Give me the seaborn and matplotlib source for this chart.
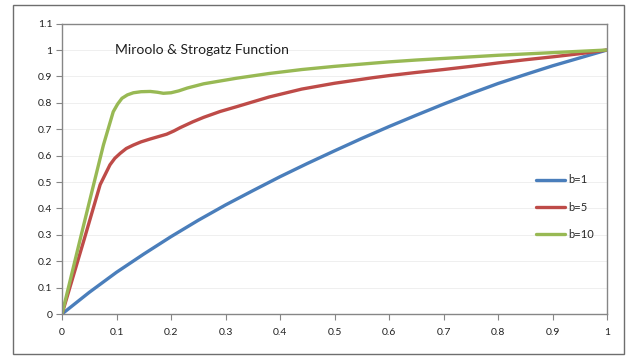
import matplotlib
matplotlib.use("Agg")
import matplotlib.pyplot as plt
import seaborn as sns
import pandas as pd
from matplotlib.patches import Rectangle
from matplotlib.lines import Line2D

# ---- data ----
series_names = ["b=1", "b=5", "b=10"]

blue_x = [0, 0.05, 0.1, 0.15, 0.2, 0.25, 0.3, 0.35, 0.4, 0.45, 0.5, 0.55, 0.6,
          0.65, 0.7, 0.75, 0.8, 0.85, 0.9, 0.95, 1.0]
blue_y = [0, 0.082, 0.158, 0.227, 0.293, 0.355, 0.413, 0.467, 0.520, 0.570, 0.618,
          0.665, 0.710, 0.753, 0.795, 0.835, 0.873, 0.907, 0.940, 0.970, 1.0]

red_x = [0, 0.041, 0.070, 0.088, 0.097, 0.107, 0.118, 0.131, 0.145, 0.162, 0.177,
         0.192, 0.205, 0.217, 0.24, 0.26, 0.29, 0.32, 0.38, 0.44, 0.50, 0.57,
         0.60, 0.65, 0.70, 0.75, 0.80, 0.85, 0.90, 0.95, 1.0]
red_y = [0, 0.285, 0.49, 0.565, 0.590, 0.609, 0.627, 0.640, 0.652, 0.663, 0.672,
         0.681, 0.693, 0.706, 0.728, 0.745, 0.767, 0.785, 0.822, 0.852, 0.874, 0.895,
         0.903, 0.915, 0.926, 0.938, 0.951, 0.963, 0.974, 0.986, 1.0]

green_x = [0, 0.033, 0.058, 0.076, 0.094, 0.102, 0.110, 0.120, 0.131, 0.145, 0.162,
           0.175, 0.186, 0.200, 0.214, 0.23, 0.26, 0.32, 0.38, 0.44, 0.50, 0.57,
           0.60, 0.65, 0.70, 0.75, 0.80, 0.85, 0.90, 0.95, 1.0]
green_y = [0, 0.28, 0.49, 0.64, 0.766, 0.795, 0.817, 0.830, 0.838, 0.842, 0.843,
           0.840, 0.836, 0.838, 0.845, 0.856, 0.872, 0.893, 0.911, 0.926, 0.938, 0.950,
           0.955, 0.962, 0.968, 0.974, 0.980, 0.985, 0.990, 0.995, 1.0]

x_ticks = [0, 0.1, 0.2, 0.3, 0.4, 0.5, 0.6, 0.7, 0.8, 0.9, 1.0]
x_labels = ["0", "0.1", "0.2", "0.3", "0.4", "0.5", "0.6", "0.7", "0.8", "0.9", "1"]
y_ticks = [0, 0.1, 0.2, 0.3, 0.4, 0.5, 0.6, 0.7, 0.8, 0.9, 1.0, 1.1]
y_labels = ["0", "0.1", "0.2", "0.3", "0.4", "0.5", "0.6", "0.7", "0.8", "0.9", "1", "1.1"]
title_text = "Miroolo & Strogatz Function"

colors = {"b=1": "#4A7EBB", "b=5": "#BE4B48", "b=10": "#98B954"}

frames = []
for name, xs, ys in [("b=1", blue_x, blue_y), ("b=5", red_x, red_y), ("b=10", green_x, green_y)]:
    frames.append(pd.DataFrame({"x": xs, "y": ys, "series": name}))
df = pd.concat(frames, ignore_index=True)

sns.set_style("white")
plt.rcParams["font.family"] = ["Lato", "DejaVu Sans"]

fig = plt.figure(figsize=(6.37, 3.56), dpi=100)
ax = fig.add_axes([62 / 637, 1 - 314 / 356, (607 - 62) / 637, (314 - 23.6) / 356])

for yv in y_ticks[1:]:
    ax.axhline(yv, color="#EFEFEF", lw=0.7, zorder=0)

sns.lineplot(data=df, x="x", y="y", hue="series", hue_order=series_names,
             palette=colors, sort=False, estimator=None, units="series",
             lw=2.4, ax=ax, legend=False,
             solid_joinstyle="round", solid_capstyle="butt")

ax.set_xlim(0, 1)
ax.set_ylim(0, 1.1)
ax.set_xticks(x_ticks)
ax.set_xticklabels(x_labels)
ax.set_yticks(y_ticks)
ax.set_yticklabels(y_labels)
ax.set_xlabel("")
ax.set_ylabel("")
ax.tick_params(axis="both", direction="out", length=4, width=0.8, color="#868686",
               labelsize=7.5, labelcolor="#222222", pad=3, left=True, bottom=True)
ax.tick_params(axis="x", pad=6)
for sp in ax.spines.values():
    sp.set_visible(True)
    sp.set_color("#868686")
    sp.set_linewidth(1.0)

ax.text(0.098, 1.0, title_text, fontsize=10, color="#1F1F1F", va="center", ha="left")

handles = [Line2D([], [], color=colors[n], lw=2.4) for n in series_names]
fig.legend(handles, series_names, loc="upper left",
           bbox_to_anchor=(532 / 637, 1 - 170 / 356), frameon=False,
           fontsize=8, handlelength=2.6, handletextpad=0.3, labelspacing=1.45,
           borderaxespad=0)

fig.patches.append(Rectangle((13 / 637, 2 / 356), (624 - 13) / 637, (351 - 2) / 356,
                             transform=fig.transFigure, fill=False,
                             edgecolor="#6E6E6E", lw=1.0))

fig.savefig("out.png", dpi=100)
